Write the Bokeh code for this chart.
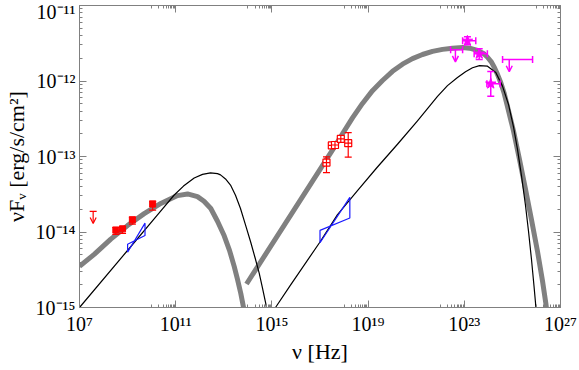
import numpy as np
from bokeh.plotting import figure
from bokeh.models import (Range1d, FixedTicker, LogAxis, CustomJSTickFormatter,
                          Arrow, OpenHead, ColumnDataSource)
from bokeh.embed import file_html
from bokeh.resources import INLINE

# ---------------- data ----------------
# model curves are given as log10(nu [Hz]) and log10(nuFnu [erg/s/cm2])
# thick grey model: synchrotron part
gs_lognu = [7.0, 7.611, 8.301, 8.996, 9.690, 10.380, 11.075, 11.491, 11.906,
            12.177, 12.459, 12.738, 13.017, 13.237, 13.432, 13.570, 13.707,
            13.819, 13.861]
gs_logf = [-14.455, -14.297, -14.095, -13.915, -13.757, -13.622, -13.518,
           -13.496, -13.531, -13.592, -13.689, -13.858, -14.050, -14.243,
           -14.455, -14.628, -14.815, -14.996, -15.068]
# thick grey model: inverse-Compton part
gc_lognu = [13.944, 17.590, 17.936, 18.351, 18.767, 19.183, 19.599, 20.015,
            20.430, 20.846, 21.262, 21.678, 22.094, 22.509, 22.925, 23.216,
            23.549, 23.798, 23.965, 24.131, 24.256, 24.380, 24.518, 24.651,
            24.796, 25.046, 25.295, 25.545, 25.794, 26.044, 26.252, 26.397,
            26.439]
gc_logf = [-14.689, -12.878, -12.699, -12.489, -12.297, -12.128, -11.993,
           -11.872, -11.777, -11.703, -11.649, -11.608, -11.581, -11.565,
           -11.557, -11.565, -11.595, -11.635, -11.685, -11.750, -11.824,
           -11.912, -12.023, -12.155, -12.338, -12.662, -13.041, -13.433,
           -13.838, -14.257, -14.649, -14.960, -15.068]
# thin black model: synchrotron part
bs_lognu = [7.0, 8.996, 10.243, 10.938, 11.324, 11.769, 12.114, 12.447, 12.738,
            12.863, 13.071, 13.279, 13.486, 13.694, 13.902, 14.123, 14.297,
            14.472, 14.609, 14.746, 14.796]
bs_logf = [-15.0, -14.245, -13.772, -13.510, -13.392, -13.284, -13.237,
           -13.216, -13.227, -13.243, -13.297, -13.378, -13.514, -13.689,
           -13.905, -14.139, -14.338, -14.545, -14.743, -14.950, -15.041]
# thin black model: inverse-Compton part
bc_lognu = [15.150, 15.773, 16.979, 17.728, 18.559, 19.362, 20.222, 21.054,
            21.886, 22.301, 22.717, 23.050, 23.341, 23.632, 23.965, 24.310,
            24.588, 24.838, 25.046, 25.212, 25.378, 25.545, 25.669, 25.794,
            25.898, 25.960, 25.985]
bc_logf = [-15.0, -14.703, -14.142, -13.770, -13.453, -13.149, -12.838,
           -12.527, -12.203, -12.061, -11.953, -11.878, -11.824, -11.797,
           -11.804, -11.888, -12.068, -12.311, -12.608, -12.905, -13.257,
           -13.649, -13.987, -14.365, -14.716, -14.933, -15.041]

# radio detections (filled red squares)
radio_nu = [3.24e8, 6.17e8, 1.58e9, 1.10e10]
radio_f = [1.06e-14, 1.10e-14, 1.45e-14, 2.34e-14]
radio_lo = [9.3e-15, 9.6e-15, 1.27e-14, 1.95e-14]
radio_hi = [1.15e-14, 1.19e-14, 1.57e-14, 2.57e-14]
# radio upper limit
rul_nu = [3.7e7]
rul_f = [1.88e-14]

# optical / X-ray points (open red squares)
ox_nu = [1.86e17, 3.1e17, 4.2e17, 7.33e17, 1.49e18]
ox_f = [8.3e-14, 1.40e-13, 1.42e-13, 1.71e-13, 1.50e-13]
ox_lo = [6.1e-14, 1.30e-13, 1.32e-13, 1.58e-13, 9.8e-14]
ox_hi = [9.9e-14, 1.51e-13, 1.53e-13, 1.85e-13, 2.07e-13]

# gamma-ray detections (magenta stars)
fe_nu = [1.35e23, 4.17e23, 1.26e24]
fe_f = [3.4e-12, 2.29e-12, 9.2e-13]
fe_lo = [3.03e-12, 1.92e-12, 6.27e-13]
fe_hi = [3.85e-12, 2.68e-12, 1.34e-12]
fe_nu_lo = [8.5e22, 2.57e23, 8.7e23]
fe_nu_hi = [3.0e23, 9.1e23, 3.1e24]
# gamma-ray upper limits
ful_nu = [4.27e22, 7.4e24]
ful_f = [2.6e-12, 1.92e-12]
ful_nu_lo = [2.7e22, 3.9e24]
ful_nu_hi = [8.5e22, 6.9e25]

# bow-ties (blue): [nu_left, nu_right], left flux range, right flux range
bt_radio_nu = [1.0e9, 5.3e9]
bt_radio_left = [5.4e-15, 6.9e-15]
bt_radio_right = [9.0e-15, 1.31e-14]
bt_x_nu = [1.0e17, 1.74e18]
bt_x_left = [7.2e-15, 1.05e-14]
bt_x_right = [1.53e-14, 2.88e-14]

x_major = [1e7, 1e11, 1e15, 1e19, 1e23, 1e27]
x_labels = ["10⁷", "10¹¹", "10¹⁵", "10¹⁹", "10²³", "10²⁷"]
y_major = [1e-15, 1e-14, 1e-13, 1e-12, 1e-11]
y_labels = ["10⁻¹⁵", "10⁻¹⁴", "10⁻¹³", "10⁻¹²", "10⁻¹¹"]

# ---------------- figure ----------------
FONT = "Liberation Serif"
AX = "#808080"

p = figure(x_axis_type="log", y_axis_type="log",
           x_range=Range1d(1e7, 1e27), y_range=Range1d(1e-15, 1e-11),
           frame_width=481, frame_height=302,
           min_border_left=72, min_border_right=18, min_border_top=5,
           min_border_bottom=50,
           output_backend="svg", toolbar_location=None)
p.grid.visible = False
p.outline_line_color = AX
p.background_fill_color = "white"
p.border_fill_color = "white"

x_minor = [k * 10.0 ** (e - 1) for e in (11, 15, 19, 23, 27) for k in range(1, 10)]
y_minor = [k * 10.0 ** e for e in (-15, -14, -13, -12) for k in range(2, 10)]
xt = FixedTicker(ticks=x_major, minor_ticks=x_minor)
yt = FixedTicker(ticks=y_major, minor_ticks=y_minor)


def style_axis(ax):
    ax.axis_line_color = AX
    ax.major_tick_line_color = AX
    ax.minor_tick_line_color = AX
    ax.major_tick_in = 7
    ax.major_tick_out = 0
    ax.minor_tick_in = 3
    ax.minor_tick_out = 0
    ax.major_label_text_font = FONT
    ax.major_label_text_font_size = "20px"
    ax.major_label_text_color = "black"
    ax.axis_label_text_font = FONT
    ax.axis_label_text_font_size = "22px"
    ax.axis_label_text_font_style = "normal"
    ax.axis_label_text_color = "black"


xa = p.xaxis[0]
xa.ticker = xt
xa.major_label_overrides = dict(zip(x_major, x_labels))
xa.axis_label = "ν [Hz]"
style_axis(xa)
xa.major_label_standoff = 5
xa.axis_label_standoff = 1

ya = p.yaxis[0]
ya.ticker = yt
ya.major_label_overrides = dict(zip(y_major, y_labels))
ya.axis_label = "νFᵥ [erg/s/cm²]"
style_axis(ya)
ya.major_label_standoff = 4
ya.axis_label_standoff = 4

blank = CustomJSTickFormatter(code="return ''")
ra = LogAxis(ticker=FixedTicker(ticks=y_major, minor_ticks=y_minor), formatter=blank)
style_axis(ra)
ra.major_label_standoff = 0
p.add_layout(ra, "right")
ta = LogAxis(ticker=FixedTicker(ticks=x_major, minor_ticks=x_minor), formatter=blank)
style_axis(ta)
ta.major_label_standoff = 0
p.add_layout(ta, "above")

# ---------------- model curves ----------------
GREY = "#808080"


def curve(lognu, logf, color, width):
    p.line(10.0 ** np.array(lognu), 10.0 ** np.array(logf),
           line_color=color, line_width=width, line_join="round")


curve(gs_lognu, gs_logf, GREY, 5)
curve(gc_lognu, gc_logf, GREY, 5)
curve(bs_lognu, bs_logf, "black", 1.2)
curve(bc_lognu, bc_logf, "black", 1.2)

# ---------------- bow-ties ----------------
BLUE = "#1a1aff"


def bowtie(nu, left, right):
    xs = [nu[0], nu[1], nu[1], nu[0], nu[0]]
    ys = [left[0], right[1], right[0], left[1], left[0]]
    p.line(xs, ys, line_color=BLUE, line_width=1.2)


bowtie(bt_radio_nu, bt_radio_left, bt_radio_right)
bowtie(bt_x_nu, bt_x_left, bt_x_right)

RED = "#ff0000"
MAG = "#ff00ff"

# ---------------- radio points ----------------
p.segment(radio_nu, radio_lo, radio_nu, radio_hi, line_color=RED, line_width=1.2)
p.scatter(radio_nu + radio_nu, radio_lo + radio_hi, marker="dash", size=7,
          line_color=RED, line_width=1.2)
p.scatter(radio_nu, radio_f, marker="square", size=6, fill_color=RED, line_color=RED)

# radio upper limit
p.scatter(rul_nu, rul_f, marker="dash", size=7, line_color=RED, line_width=1.2)
rsrc = ColumnDataSource(dict(x0=rul_nu, y0=rul_f, x1=rul_nu,
                             y1=[f * 0.69 for f in rul_f]))
p.add_layout(Arrow(x_start="x0", y_start="y0", x_end="x1", y_end="y1", source=rsrc,
                   line_color=RED, line_width=1.2,
                   end=OpenHead(size=6, line_color=RED, line_width=1.2)))

# ---------------- optical / X-ray points ----------------
p.segment(ox_nu, ox_lo, ox_nu, ox_hi, line_color=RED, line_width=1.2)
p.scatter(ox_nu + ox_nu, ox_lo + ox_hi, marker="dash", size=7,
          line_color=RED, line_width=1.2)
p.scatter(ox_nu, ox_f, marker="square_cross", size=7, fill_color="white",
          line_color=RED, line_width=1.2)

# ---------------- gamma-ray points ----------------
p.segment(fe_nu, fe_lo, fe_nu, fe_hi, line_color=MAG, line_width=1.5)
p.segment(fe_nu_lo, fe_f, fe_nu_hi, fe_f, line_color=MAG, line_width=1.5)
p.scatter(fe_nu + fe_nu, fe_lo + fe_hi, marker="dash", size=7,
          line_color=MAG, line_width=1.5)
p.scatter(fe_nu_lo + fe_nu_hi, fe_f + fe_f, marker="dash", size=7, angle=np.pi / 2,
          line_color=MAG, line_width=1.5)
p.scatter(fe_nu, fe_f, marker="star", size=11, fill_color=MAG, line_color=MAG)

# gamma-ray upper limits
p.segment(ful_nu_lo, ful_f, ful_nu_hi, ful_f, line_color=MAG, line_width=1.5)
p.scatter(ful_nu_lo + ful_nu_hi, ful_f + ful_f, marker="dash", size=7,
          angle=np.pi / 2, line_color=MAG, line_width=1.5)
fsrc = ColumnDataSource(dict(x0=ful_nu, y0=ful_f, x1=ful_nu,
                             y1=[f * 0.69 for f in ful_f]))
p.add_layout(Arrow(x_start="x0", y_start="y0", x_end="x1", y_end="y1", source=fsrc,
                   line_color=MAG, line_width=1.5,
                   end=OpenHead(size=6, line_color=MAG, line_width=1.5)))

open("out.html", "w").write(file_html(p, INLINE))
